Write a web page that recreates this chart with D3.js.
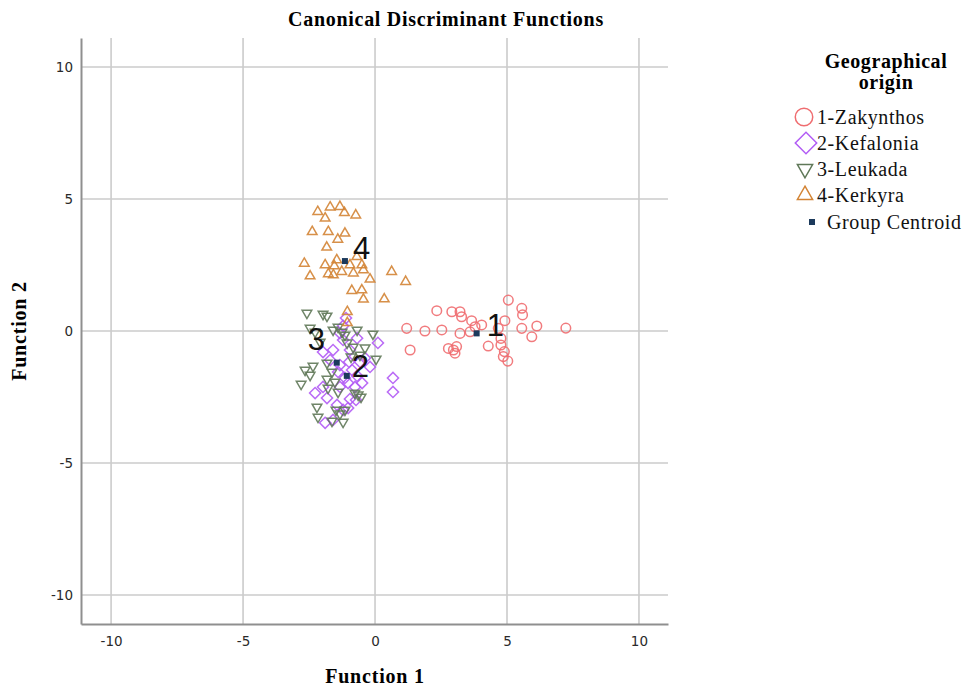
<!DOCTYPE html>
<html><head><meta charset="utf-8">
<script src="https://cdn.jsdelivr.net/npm/d3@7"></script>
<style>body{margin:0;background:#fff;} svg{display:block;}</style>
</head><body>
<svg id="chart" width="968" height="688"></svg>
<script>
const xTicks = [-10, -5, 0, 5, 10];
const yTicks = [-10, -5, 0, 5, 10];
const groupNames = ["1-Zakynthos", "2-Kefalonia", "3-Leukada", "4-Kerkyra"];
const centroidLabel = "Group Centroid";

const zakynthos = [[1.20,0.10],[1.89,0.00],[2.53,0.04],[2.34,0.77],[2.91,0.73],[3.22,0.73],[3.28,0.54],[3.66,0.39],[4.04,0.23],[3.79,0.16],[3.60,-0.03],[3.22,-0.09],[4.67,0.10],[4.92,0.39],[5.05,1.17],[5.56,0.86],[5.59,0.61],[5.56,0.10],[6.13,0.19],[5.94,-0.22],[4.77,-0.28],[4.29,-0.57],[4.77,-0.53],[4.90,-0.78],[4.86,-0.97],[5.03,-1.14],[1.33,-0.72],[2.78,-0.66],[3.09,-0.59],[3.03,-0.84],[2.97,-0.72],[7.23,0.11]];
const kefalonia = [[-1.10,0.49],[-1.21,0.19],[-1.33,-0.08],[-1.21,-0.34],[-1.97,-0.80],[-1.59,-0.72],[-0.95,-0.72],[0.11,-0.45],[-0.68,-0.27],[-0.38,-1.02],[-0.19,-1.36],[-1.70,-1.10],[-1.33,-1.29],[-0.87,-1.48],[-1.14,-1.78],[-0.68,-1.70],[-1.02,-1.97],[-0.76,-2.12],[-1.33,-2.12],[-1.97,-2.12],[-2.27,-2.35],[-1.82,-2.54],[-1.44,-2.80],[-0.95,-2.58],[-0.72,-2.61],[-1.02,-2.92],[-1.21,-2.99],[-1.59,-3.37],[-1.89,-3.48],[0.68,-1.78],[0.68,-2.31],[-0.49,-1.97],[-1.40,-1.55],[-0.57,-1.17],[-0.98,-1.17]];
const leukada = [[-2.58,0.68],[-1.97,0.64],[-2.46,0.11],[-2.27,-0.04],[-1.82,0.57],[-1.59,0.04],[-1.40,0.15],[-1.25,-0.04],[-1.14,-0.15],[-1.06,-0.45],[-0.68,0.04],[-0.08,-0.11],[-2.08,-0.42],[-0.83,-0.61],[-0.38,-0.64],[-0.57,-0.91],[-0.91,-0.98],[0.04,-1.06],[-1.82,-1.21],[-2.35,-1.33],[-2.65,-1.48],[-2.46,-1.67],[-2.80,-2.01],[-1.63,-1.55],[-1.82,-1.82],[-1.52,-1.93],[-1.78,-2.16],[-1.40,-2.31],[-0.76,-2.35],[-0.64,-2.42],[-0.53,-2.50],[-2.20,-2.88],[-1.48,-2.99],[-1.33,-3.14],[-1.14,-2.99],[-2.16,-3.26],[-1.63,-3.41],[-1.21,-3.45]];
const kerkyra = [[-2.17,4.52],[-1.70,4.69],[-1.33,4.71],[-1.16,4.48],[-1.89,4.27],[-0.73,4.39],[-2.38,3.76],[-1.77,3.76],[-1.14,3.70],[-1.41,3.47],[-1.83,3.17],[-2.68,2.56],[-1.45,2.69],[-0.69,2.81],[-1.89,2.50],[-1.54,2.46],[-0.95,2.50],[-0.50,2.50],[-0.44,2.31],[-2.46,2.08],[-1.77,2.16],[-1.58,2.12],[-1.26,2.25],[-0.82,2.19],[-0.19,1.96],[0.63,2.25],[1.16,1.87],[-0.88,1.53],[-0.50,1.55],[-0.44,1.20],[0.35,1.21],[-1.05,0.73],[-1.05,0.31]];
const centroids = [[3.85,-0.09],[-1.07,-1.70],[-1.45,-1.20],[-1.14,2.65]];
const centroidNames = ["1", "2", "3", "4"];

const svg = d3.select("#chart");
const pLeft = 81, pRight = 668, pTop = 38, pBottom = 624;
const x = d3.scaleLinear().domain([-11.14, 11.1]).range([pLeft, pRight]);
const y = d3.scaleLinear().domain([-11.1, 11.1]).range([pBottom, pTop]);

// grid
svg.append("g").selectAll("line").data(xTicks).join("line")
  .attr("x1", d => x(d)).attr("x2", d => x(d)).attr("y1", pTop).attr("y2", pBottom)
  .attr("stroke", "#cbcbcb").attr("stroke-width", 1.6);
svg.append("g").selectAll("line").data(yTicks).join("line")
  .attr("y1", d => y(d)).attr("y2", d => y(d)).attr("x1", pLeft).attr("x2", pRight)
  .attr("stroke", "#cbcbcb").attr("stroke-width", 1.6);

// axes
const fmt = d => String(d);
const xAxis = svg.append("g").attr("transform", `translate(0,${pBottom})`)
  .call(d3.axisBottom(x).tickValues(xTicks).tickFormat(fmt).tickSize(0).tickPadding(12));
const yAxis = svg.append("g").attr("transform", `translate(${pLeft},0)`)
  .call(d3.axisLeft(y).tickValues(yTicks).tickFormat(fmt).tickSize(0).tickPadding(8));
[xAxis, yAxis].forEach(a => {
  a.select(".domain").attr("stroke", "#8f8f8f").attr("stroke-width", 2);
  a.selectAll("text").attr("font-family", "DejaVu Sans, sans-serif").attr("font-size", 13.5).attr("fill", "#2a2a2a");
});

// markers
const sym = (type, size) => d3.symbol().type(type).size(size)();
const groups = [
  {data: zakynthos, path: sym(d3.symbolCircle, 72), rot: 0, color: "#ef6d70"},
  {data: kefalonia, path: sym(d3.symbolSquare, 62), rot: 45, color: "#b25cf5"},
  {data: leukada, path: sym(d3.symbolTriangle, 40), rot: 180, color: "#5f7858"},
  {data: kerkyra, path: sym(d3.symbolTriangle, 40), rot: 0, color: "#d38435"}
];
groups.forEach(g => {
  svg.append("g").selectAll("path").data(g.data).join("path")
    .attr("d", g.path)
    .attr("transform", d => `translate(${x(d[0])},${y(d[1])}) rotate(${g.rot})`)
    .attr("fill", "none").attr("stroke", g.color).attr("stroke-width", 1.5).attr("stroke-opacity", 0.9);
});

// centroids
svg.append("g").selectAll("rect").data(centroids).join("rect")
  .attr("x", d => x(d[0]) - 3).attr("y", d => y(d[1]) - 3)
  .attr("width", 6).attr("height", 6).attr("fill", "#1c3a5c");
const lblOff = [[10,3],[5,1],[-29,-13],[8,-2]];
svg.append("g").selectAll("text").data(centroids).join("text")
  .attr("x", (d,i) => x(d[0]) + lblOff[i][0]).attr("y", (d,i) => y(d[1]) + lblOff[i][1])
  .attr("font-family", "Liberation Sans, Arial, sans-serif").attr("font-size", 31)
  .attr("fill", "#111").text((d,i) => centroidNames[i]);

// titles
const serif = "Liberation Serif, Times New Roman, serif";
svg.append("text").attr("x", 446).attr("y", 26).attr("text-anchor", "middle")
  .attr("font-family", serif).attr("font-weight", "bold").attr("font-size", 20).attr("letter-spacing", 0.7)
  .text("Canonical Discriminant Functions");
svg.append("text").attr("x", 375).attr("y", 683).attr("text-anchor", "middle")
  .attr("font-family", serif).attr("font-weight", "bold").attr("font-size", 20).attr("letter-spacing", 0.8)
  .text("Function 1");
svg.append("text").attr("transform", "translate(26,331) rotate(-90)").attr("text-anchor", "middle")
  .attr("font-family", serif).attr("font-weight", "bold").attr("font-size", 20).attr("letter-spacing", 0.8)
  .text("Function 2");

// legend
const lg = svg.append("g");
lg.append("text").attr("x", 886).attr("y", 68).attr("text-anchor", "middle")
  .attr("font-family", serif).attr("font-weight", "bold").attr("font-size", 20).attr("letter-spacing", 0.6).text("Geographical");
lg.append("text").attr("x", 886).attr("y", 89).attr("text-anchor", "middle")
  .attr("font-family", serif).attr("font-weight", "bold").attr("font-size", 20).attr("letter-spacing", 0.6).text("origin");
const legItems = [
  {name: groupNames[0], path: sym(d3.symbolCircle, 240), rot: 0, color: "#ef6d70", cx: 804, cy: 117},
  {name: groupNames[1], path: sym(d3.symbolSquare, 230), rot: 45, color: "#b25cf5", cx: 806, cy: 143},
  {name: groupNames[2], path: sym(d3.symbolTriangle, 100), rot: 180, color: "#5f7858", cx: 805, cy: 169},
  {name: groupNames[3], path: sym(d3.symbolTriangle, 100), rot: 0, color: "#d38435", cx: 805, cy: 195}
];
legItems.forEach(it => {
  lg.append("path").attr("d", it.path).attr("transform", `translate(${it.cx},${it.cy}) rotate(${it.rot})`)
    .attr("fill", "none").attr("stroke", it.color).attr("stroke-width", 1.5);
  lg.append("text").attr("x", 817).attr("y", it.cy + 7)
    .attr("font-family", serif).attr("font-size", 20).attr("letter-spacing", 0.6).attr("fill", "#111").text(it.name);
});
lg.append("rect").attr("x", 809).attr("y", 219).attr("width", 6).attr("height", 6).attr("fill", "#1c3a5c");
lg.append("text").attr("x", 827).attr("y", 229)
  .attr("font-family", serif).attr("font-size", 20).attr("letter-spacing", 0.6).attr("fill", "#111").text(centroidLabel);
</script>
</body></html>
